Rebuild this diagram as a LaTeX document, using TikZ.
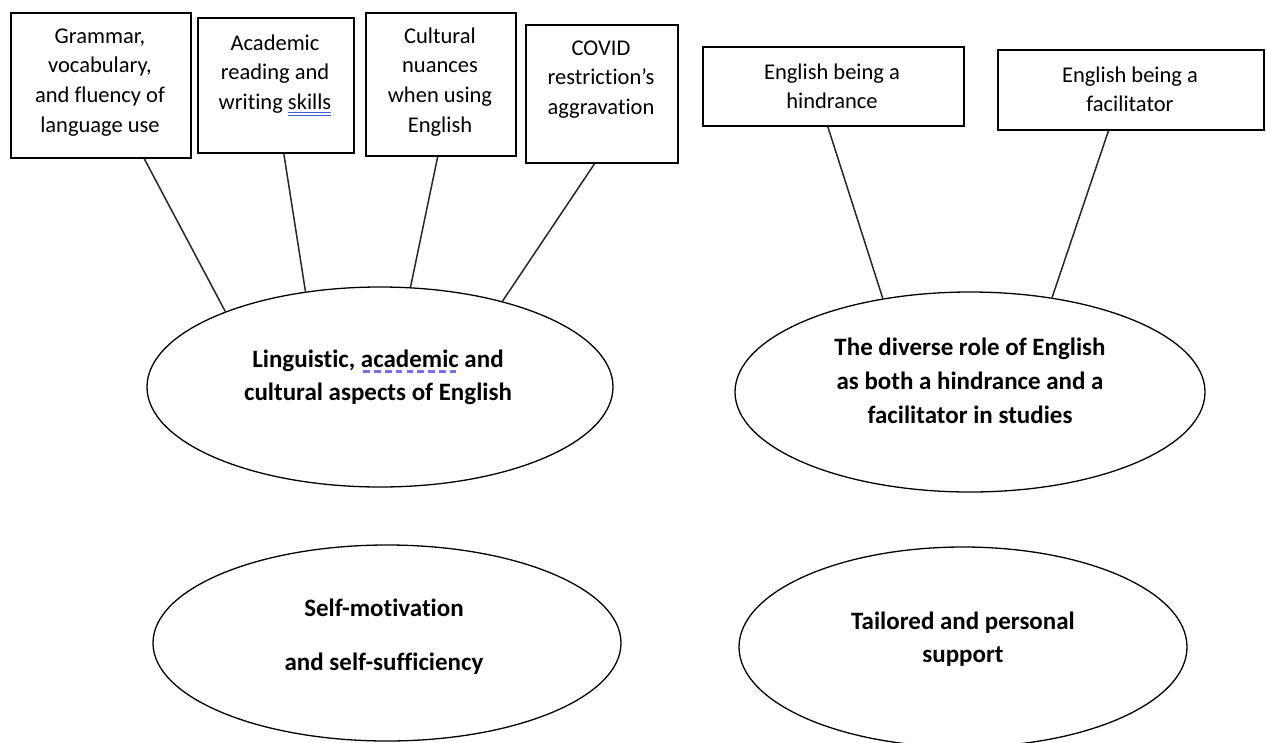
\documentclass[tikz,border=0pt]{standalone}
\usepackage{fontspec}
\setmainfont{Carlito}[Ligatures={TeX,NoCommon},RawFeature={-liga;-clig;-calt}]
\usetikzlibrary{shapes.geometric,calc}
\definecolor{spellblue}{RGB}{55,95,215}
\definecolor{gramblue}{RGB}{115,110,240}
\newlength\ulw
\newcommand\dblul[1]{\settowidth\ulw{#1}\rlap{\color{spellblue}\rule[-3.5pt]{\ulw}{1.1pt}}\rlap{\color{spellblue}\rule[-6.5pt]{\ulw}{1.1pt}}#1}
\newcommand\dashul[1]{\settowidth\ulw{#1}\rlap{\color{gramblue}\raisebox{-5.5pt}{\hbox to\ulw{\xleaders\hbox to 10pt{\hss\rule{6.5pt}{2.2pt}\hss}\hfill}}}#1}
\begin{document}
\begin{tikzpicture}[x=1pt,y=-1pt,
  box/.style={draw=black, line width=1.5pt, inner sep=0pt, anchor=north west},
  btext/.style={font=\fontsize{22.5}{29.8}\selectfont, inner sep=0pt, anchor=base},
  etext/.style={font=\fontsize{25}{33}\selectfont\bfseries, inner sep=0pt, anchor=base},
  oval/.style={draw=black, ellipse, line width=1.3pt, inner sep=0pt},
  link/.style={draw=black!85, line width=1.5pt}]
\useasboundingbox (0,0) rectangle (1266,742);
\clip (0,0) rectangle (1266,742);

% boxes
\node[box, minimum width=180pt, minimum height=145pt] (b1) at (10,12) {};
\node[box, minimum width=156pt, minimum height=135pt] (b2) at (197,17) {};
\node[box, minimum width=150pt, minimum height=143pt] (b3) at (365,12) {};
\node[box, minimum width=152pt, minimum height=138pt] (b4) at (525,24) {};
\node[box, minimum width=261pt, minimum height=79pt] (b5) at (702,46) {};
\node[box, minimum width=266pt, minimum height=80pt] (b6) at (997,49) {};

% box texts
\node[btext] (t1) at (100,43) {\begin{tabular}[t]{@{}c@{}}Grammar,\\vocabulary,\\and fluency of\\language use\end{tabular}};
\node[btext] (t2) at (275,50) {\begin{tabular}[t]{@{}c@{}}Academic\\reading and\\writing \dblul{skills}\end{tabular}};
\node[btext] (t3) at (440,43) {\begin{tabular}[t]{@{}c@{}}Cultural\\nuances\\when using\\English\end{tabular}};
\node[btext] (t4) at (601,55) {\begin{tabular}[t]{@{}c@{}}COVID\\restriction’s\\aggravation\end{tabular}};
\node[btext] (t5) at (832,79) {\begin{tabular}[t]{@{}c@{}}English being a\\hindrance\end{tabular}};
\node[btext] (t6) at (1130,82) {\begin{tabular}[t]{@{}c@{}}English being a\\facilitator\end{tabular}};

% ellipses
\node[oval, minimum width=466pt, minimum height=200pt] (e1) at (380,387) {};
\node[oval, minimum width=470pt, minimum height=200pt] (e2) at (970,392) {};
\node[oval, minimum width=468pt, minimum height=196pt] (e3) at (387,643) {};
\node[oval, minimum width=448pt, minimum height=200pt] (e4) at (963,647) {};

% ellipse texts
\node[etext] (l1) at (378,367) {\begin{tabular}[t]{@{}c@{}}Linguistic, \dashul{academic} and\\cultural aspects of English\end{tabular}};
\node[etext, font=\fontsize{25}{34}\selectfont\bfseries] (l2) at (970,355) {\begin{tabular}[t]{@{}c@{}}The diverse role of English\\as both a hindrance and a\\facilitator in studies\end{tabular}};
\node[etext, font=\fontsize{25}{54}\selectfont\bfseries] (l3) at (384,616) {\begin{tabular}[t]{@{}c@{}}Self-motivation\\and self-sufficiency\end{tabular}};
\node[etext] (l4) at (963,629) {\begin{tabular}[t]{@{}c@{}}Tailored and personal\\support\end{tabular}};

% connectors
\draw[link] ($(b1.south west)!0.739!(b1.south east)$) -- (e1.154.3);
\draw[link] ($(b2.south west)!0.551!(b2.south east)$) -- (e1.128.7);
\draw[link] ($(b3.south west)!0.48!(b3.south east)$) -- (e1.73.9);
\draw[link] ($(b4.south west)!0.454!(b4.south east)$) -- (e1.35.4);
\draw[link] ($(b5.south west)!0.479!(b5.south east)$) -- (e2.133.8);
\draw[link] ($(b6.south west)!0.417!(b6.south east)$) -- (e2.49.8);
\end{tikzpicture}
\end{document}
